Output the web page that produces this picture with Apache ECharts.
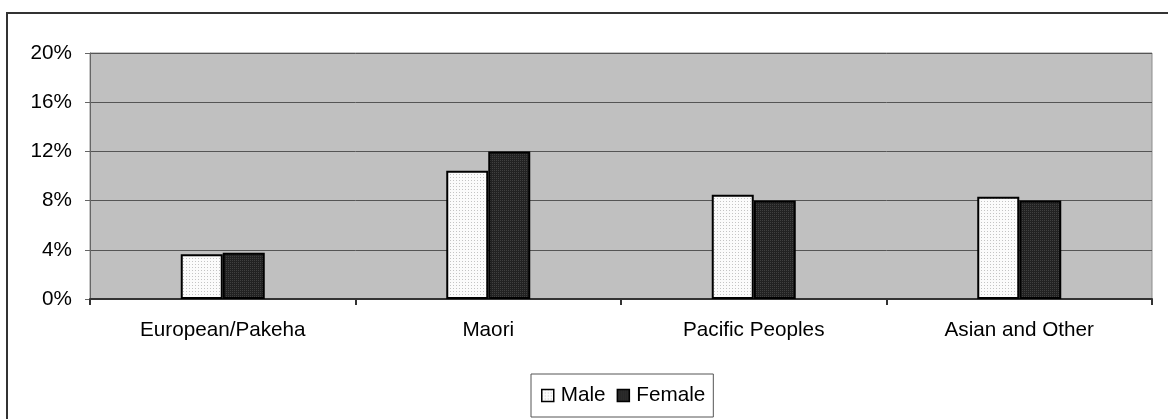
<!DOCTYPE html>
<html>
<head>
<meta charset="utf-8">
<script src="https://cdn.jsdelivr.net/npm/echarts@6/dist/echarts.min.js"></script>
<style>
  html, body { margin: 0; padding: 0; background: #ffffff; }
  #chart { width: 1168px; height: 419px; }
</style>
</head>
<body>
<div id="chart"></div>
<script>
// Share of each ethnic group, by sex (percent)
const categories = ['European/Pakeha', 'Maori', 'Pacific Peoples', 'Asian and Other'];
const maleValues = [3.63, 10.43, 8.48, 8.32];
const femaleValues = [3.76, 12.0, 8.0, 8.0];
const seriesNames = ['Male', 'Female'];
const yTicks = [0, 4, 8, 12, 16, 20];

// Small repeating fill textures for the bars
function makePattern(size, bg, dot) {
  const c = document.createElement('canvas');
  c.width = size; c.height = size;
  const ctx = c.getContext('2d');
  ctx.fillStyle = bg;
  ctx.fillRect(0, 0, size, size);
  ctx.fillStyle = dot;
  ctx.fillRect(0, 0, 1, 1);
  return { image: c, repeat: 'repeat' };
}
const malePattern = makePattern(3, '#fbfbfb', '#c4c4c4');
const femalePattern = makePattern(2, '#222222', '#404040');

const font = '"Liberation Sans", Arial, sans-serif';
const fs = 20.7;
const chart = echarts.init(document.getElementById('chart'), null, { renderer: 'canvas' });

chart.setOption({
  animation: false,
  backgroundColor: '#ffffff',
  textStyle: { fontFamily: font, color: '#000' },
  graphic: [{
    type: 'rect',
    shape: { x: 7, y: 13, width: 1220, height: 480 },
    style: { fill: 'none', stroke: '#333333', lineWidth: 2 },
    silent: true,
    z: 100
  }],
  grid: {
    left: 90, right: 16, top: 53, bottom: 120,
    show: true,
    backgroundColor: '#c0c0c0',
    borderColor: '#8c8c8c',
    borderWidth: 1
  },
  legend: {
    data: seriesNames,
    icon: 'rect',
    left: 531, top: 374,
    padding: [11, 8, 11, 10],
    itemGap: 11,
    itemWidth: 12, itemHeight: 12,
    borderColor: '#555555', borderWidth: 1,
    itemStyle: { borderColor: '#000', borderWidth: 1.5 },
    textStyle: { fontSize: fs, fontFamily: font, color: '#000', padding: [0, 0, 0, 2] }
  },
  xAxis: {
    type: 'category',
    data: categories,
    axisLine: { lineStyle: { color: '#333333', width: 2 } },
    axisTick: { show: true, length: 6, lineStyle: { color: '#333333', width: 2 } },
    axisLabel: { fontSize: fs, fontFamily: font, color: '#000', margin: 21 },
    splitLine: { show: false }
  },
  yAxis: {
    type: 'value',
    min: 0, max: 20, interval: 4,
    axisLine: { show: true, lineStyle: { color: '#666666', width: 1 } },
    axisTick: { show: true, length: 5, lineStyle: { color: '#666666' } },
    axisLabel: {
      fontSize: fs, fontFamily: font, color: '#000', margin: 18,
      formatter: v => (yTicks.includes(v) ? v + '%' : '')
    },
    splitLine: { show: true, lineStyle: { color: '#555555', width: 1 } }
  },
  series: [
    {
      name: seriesNames[0],
      type: 'bar',
      data: maleValues,
      barWidth: 42,
      barGap: '0%',
      itemStyle: { color: malePattern, borderColor: '#000', borderWidth: 2 }
    },
    {
      name: seriesNames[1],
      type: 'bar',
      data: femaleValues,
      barWidth: 42,
      itemStyle: { color: femalePattern, borderColor: '#000', borderWidth: 2 }
    }
  ]
});
</script>
</body>
</html>
